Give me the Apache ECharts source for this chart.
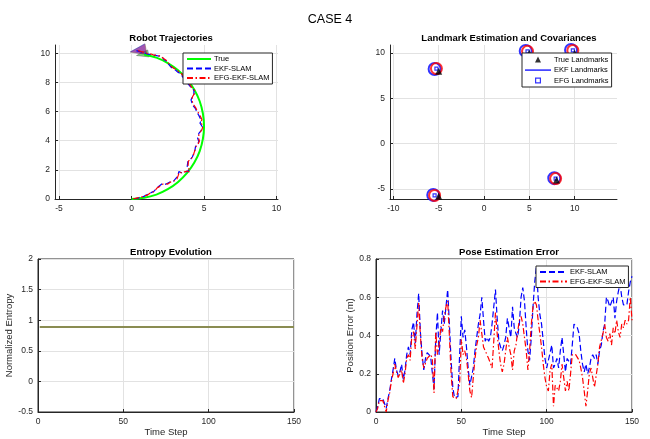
<!DOCTYPE html>
<html>
<head>
<meta charset="utf-8">
<script src="https://cdn.jsdelivr.net/npm/echarts@6/dist/echarts.min.js"></script>
<style>
html, body { margin: 0; padding: 0; background: #fff; }
#main { width: 650px; height: 439px; }
</style>
</head>
<body>
<div id="main"></div>
<script>
// ---- Robot Trajectories (m) ----
var trueX = [0.00, 0.87, 1.71, 2.50, 3.21, 3.83, 4.33, 4.70, 4.92, 5.00, 4.92, 4.70, 4.33, 3.83, 3.21, 2.50, 1.71, 0.87];
var trueY = [0.00, 0.08, 0.30, 0.67, 1.17, 1.79, 2.50, 3.29, 4.13, 5.00, 5.87, 6.71, 7.50, 8.21, 8.83, 9.33, 9.70, 9.92];

var ekfX = [0.16, 0.45, 0.62, 0.85, 1.08, 1.30, 1.54, 1.70, 1.89, 2.11, 2.30, 2.46, 2.69, 2.90, 3.03, 3.20, 3.26, 3.45, 3.61, 3.80,
            3.95, 3.84, 3.88, 4.07, 4.20, 4.30, 4.38, 4.41, 4.55, 4.64, 4.55, 4.64, 4.80, 4.88, 4.72, 4.80, 4.64, 4.50, 4.41, 4.25,
            4.18, 4.10, 4.18, 4.30, 4.30, 4.07, 3.90, 3.72, 3.55, 3.38, 3.20, 3.03, 2.85, 2.69, 2.55, 2.46, 2.25, 2.11, 1.90, 1.66,
            1.50, 1.31, 1.10, 0.97, 0.80, 0.62, 0.45, 0.28];
var ekfY = [0.00, 0.05, 0.15, 0.18, 0.30, 0.42, 0.52, 0.70, 0.88, 1.05, 1.00, 1.06, 1.20, 1.22, 1.33, 1.60, 1.88, 1.80, 1.83, 1.90,
            1.88, 2.25, 2.56, 2.72, 2.90, 3.15, 3.40, 3.60, 3.75, 3.95, 4.20, 4.50, 4.70, 4.96, 5.20, 5.40, 5.74, 5.95, 6.20, 6.40,
            6.55, 6.80, 7.00, 7.20, 7.46, 7.69, 7.90, 8.15, 8.35, 8.60, 8.70, 8.85, 8.95, 9.08, 9.25, 9.42, 9.55, 9.75, 9.80, 9.86,
            9.85, 9.92, 9.95, 9.98, 10.05, 10.10, 10.15, 10.20];

var efgX = [0.10, 0.40, 0.65, 0.90, 1.10, 1.35, 1.55, 1.75, 1.92, 2.15, 2.35, 2.50, 2.72, 2.95, 3.10, 3.22, 3.30, 3.50, 3.65, 3.85,
            4.00, 3.90, 3.92, 4.10, 4.25, 4.32, 4.42, 4.45, 4.60, 4.68, 4.60, 4.70, 4.85, 4.92, 4.78, 4.85, 4.70, 4.55, 4.45, 4.30,
            4.22, 4.15, 4.22, 4.35, 4.32, 4.10, 3.95, 3.78, 3.60, 3.42, 3.25, 3.08, 2.90, 2.72, 2.58, 2.48, 2.28, 2.15, 1.95, 1.70,
            1.52, 1.35, 1.15, 1.00, 0.82, 0.65, 0.48, 0.30];
var efgY = [0.00, 0.08, 0.12, 0.22, 0.27, 0.45, 0.50, 0.75, 0.85, 1.02, 1.05, 1.02, 1.18, 1.25, 1.30, 1.62, 1.85, 1.78, 1.86, 1.92,
            1.85, 2.30, 2.60, 2.75, 2.95, 3.20, 3.45, 3.62, 3.80, 3.98, 4.25, 4.55, 4.75, 5.00, 5.25, 5.45, 5.78, 6.00, 6.22, 6.45,
            6.60, 6.85, 7.05, 7.25, 7.50, 7.72, 7.95, 8.18, 8.40, 8.62, 8.75, 8.88, 8.98, 9.12, 9.28, 9.45, 9.60, 9.72, 9.82, 9.88,
            9.88, 9.95, 9.98, 10.02, 10.08, 10.12, 10.18, 10.22];

// final robot poses [x, y]
var poseTrue = [0.75, 9.92];
var poseEkf = [0.42, 10.2];
var poseEfg = [0.45, 10.18];

// ---- Landmarks (m) ----
var trueLmX = [-5, 5, 10, 8, -5];
var trueLmY = [8, 10, 10, -4, -5.8];
var ekfLmX = [-5.45, 4.6, 9.6, 7.75, -5.6];
var ekfLmY = [8.25, 10.25, 10.35, -3.8, -5.65];
var efgLmX = [-5.25, 4.8, 9.8, 7.9, -5.45];
var efgLmY = [8.3, 10.2, 10.3, -3.85, -5.7];

// ---- Entropy ----
var entropySteps = [1, 150];
var entropyValues = [0.89, 0.89];

// ---- Pose error, time step 0..150 ----
var ekfErr = [0.00, 0.03, 0.07, 0.08, 0.07, 0.06, 0.02, 0.07, 0.11, 0.17,
              0.22, 0.28, 0.22, 0.19, 0.21, 0.25, 0.17, 0.22, 0.30, 0.34,
              0.30, 0.43, 0.47, 0.36, 0.51, 0.62, 0.42, 0.30, 0.22, 0.28,
              0.31, 0.30, 0.29, 0.28, 0.12, 0.38, 0.52, 0.30, 0.42, 0.53,
              0.46, 0.55, 0.64, 0.46, 0.27, 0.13, 0.075, 0.075, 0.08, 0.30,
              0.50, 0.39, 0.43, 0.34, 0.23, 0.14, 0.13, 0.23, 0.32, 0.39,
              0.46, 0.51, 0.60, 0.48, 0.37, 0.39, 0.37, 0.39, 0.46, 0.55,
              0.64, 0.49, 0.37, 0.34, 0.32, 0.35, 0.39, 0.49, 0.44, 0.39,
              0.55, 0.44, 0.41, 0.39, 0.46, 0.60, 0.65, 0.58, 0.44, 0.32,
              0.27, 0.39, 0.55, 0.68, 0.76, 0.60, 0.51, 0.46, 0.37, 0.28,
              0.23, 0.27, 0.28, 0.35, 0.23, 0.25, 0.28, 0.23, 0.32, 0.39,
              0.30, 0.21, 0.28, 0.28, 0.25, 0.35, 0.46, 0.46, 0.44, 0.41,
              0.32, 0.25, 0.21, 0.25, 0.20, 0.23, 0.28, 0.30, 0.28, 0.30,
              0.25, 0.32, 0.35, 0.42, 0.46, 0.60, 0.58, 0.55, 0.56, 0.60,
              0.49, 0.58, 0.63, 0.67, 0.60, 0.56, 0.55, 0.56, 0.63, 0.68,
              0.71];
var efgErr = [0.00, 0.02, 0.06, 0.07, 0.06, 0.06, 0.00, 0.06, 0.10, 0.16,
              0.20, 0.25, 0.21, 0.18, 0.20, 0.22, 0.15, 0.20, 0.28, 0.30,
              0.27, 0.40, 0.42, 0.33, 0.45, 0.57, 0.40, 0.28, 0.23, 0.22,
              0.28, 0.29, 0.30, 0.28, 0.10, 0.42, 0.30, 0.35, 0.45, 0.42,
              0.50, 0.55, 0.58, 0.40, 0.20, 0.08, 0.07, 0.07, 0.08, 0.15,
              0.38, 0.30, 0.32, 0.28, 0.20, 0.11, 0.075, 0.18, 0.28, 0.35,
              0.39, 0.48, 0.41, 0.34, 0.35, 0.30, 0.28, 0.29, 0.23, 0.37,
              0.52, 0.41, 0.32, 0.25, 0.21, 0.25, 0.32, 0.39, 0.34, 0.30,
              0.22, 0.32, 0.35, 0.42, 0.48, 0.50, 0.46, 0.39, 0.32, 0.22,
              0.32, 0.46, 0.55, 0.58, 0.56, 0.48, 0.41, 0.34, 0.25, 0.18,
              0.13, 0.11, 0.22, 0.25, 0.03, 0.14, 0.13, 0.11, 0.16, 0.25,
              0.18, 0.11, 0.16, 0.11, 0.20, 0.30, 0.31, 0.30, 0.29, 0.27,
              0.23, 0.18, 0.11, 0.03, 0.11, 0.20, 0.23, 0.18, 0.13, 0.14,
              0.25, 0.34, 0.35, 0.41, 0.46, 0.39, 0.37, 0.41, 0.35, 0.44,
              0.41, 0.48, 0.42, 0.39, 0.46, 0.44, 0.48, 0.46, 0.48, 0.60,
              0.48];

// tick labels
var trajXTicks = [-5, 0, 5, 10];
var trajYTicks = [0, 2, 4, 6, 8, 10];
var lmXTicks = [-10, -5, 0, 5, 10];
var lmYTicks = [-5, 0, 5, 10];
var stepTicks = [0, 50, 100, 150];
var entropyTicks = [-0.5, 0, 0.5, 1, 1.5, 2];
var errTicks = [0, 0.2, 0.4, 0.6, 0.8];

var FONT = 'Liberation Sans, Arial, sans-serif';
var INK = '#262626';
var BLUE = '#0000ff';
var RED = '#ff0000';
var GREEN = '#00ff00';
var DASH = [6, 3];
var DASHDOT = [6, 2.5, 1.5, 2.5];

// legend icons drawn in a 26x9 box (the bare M points fix the box size)
var ICON_TRI = 'path://M0,0M26,9M10,7.5L13,1.5L16,7.5Z';
var ICON_LINE = 'path://M0,0M26,9M0,3.8h26v1.6h-26z';
var ICON_SQR = 'path://M0,0M26,9M10,1.5h6v6h-6zM11.2,2.7v3.6h3.6v-3.6z';

function zip(xs, ys) {
    var out = [];
    for (var i = 0; i < xs.length; i++) out.push([xs[i], ys[i]]);
    return out;
}
function steps(vals) {
    var out = [];
    for (var i = 0; i < vals.length; i++) out.push([i, vals[i]]);
    return out;
}

function axis(grid, min, max, ticks, extra) {
    var a = {
        type: 'value', gridIndex: grid, min: min, max: max,
        axisLine: { show: true, onZero: false, lineStyle: { color: INK, width: 1 } },
        axisTick: { show: true, inside: true, length: 3, customValues: ticks, lineStyle: { color: INK } },
        axisLabel: { customValues: ticks, fontSize: 8.5, color: INK, fontFamily: FONT, margin: 5 },
        splitLine: { show: true, lineStyle: { color: '#e2e2e2', width: 1 } },
        nameTextStyle: { fontSize: 9.5, color: INK, fontFamily: FONT }
    };
    for (var k in extra) a[k] = extra[k];
    return a;
}

var chart = echarts.init(document.getElementById('main'));

var legendBase = {
    orient: 'vertical', backgroundColor: '#fff', borderColor: INK, borderWidth: 1,
    itemGap: 1.5, itemHeight: 9, padding: [2, 3, 2, 3],
    textStyle: { fontSize: 7.5, color: '#000', fontFamily: FONT, padding: [0, 0, 0, -2] },
    selectedMode: false
};

var option = {
    animation: false,
    backgroundColor: '#fff',
    title: [
        { text: 'CASE 4', left: 325, top: 8, textAlign: 'center',
          textStyle: { fontSize: 12.5, fontWeight: 'normal', color: '#000', fontFamily: FONT } },
        { text: 'Robot Trajectories', left: 166, top: 28, textAlign: 'center',
          textStyle: { fontSize: 9.5, fontWeight: 'bold', color: '#000', fontFamily: FONT } },
        { text: 'Landmark Estimation and Covariances', left: 504, top: 28, textAlign: 'center',
          textStyle: { fontSize: 9.5, fontWeight: 'bold', color: '#000', fontFamily: FONT } },
        { text: 'Entropy Evolution', left: 166, top: 242, textAlign: 'center',
          textStyle: { fontSize: 9.5, fontWeight: 'bold', color: '#000', fontFamily: FONT } },
        { text: 'Pose Estimation Error', left: 504, top: 242, textAlign: 'center',
          textStyle: { fontSize: 9.5, fontWeight: 'bold', color: '#000', fontFamily: FONT } }
    ],
    legend: [
        Object.assign({}, legendBase, { left: 183, top: 53, itemWidth: 24,
            itemStyle: { opacity: 0 },
            data: ['True', 'EKF-SLAM', 'EFG-EKF-SLAM'] }),
        Object.assign({}, legendBase, { left: 522, top: 53, itemWidth: 26,
            data: [
                { name: 'True Landmarks', icon: ICON_TRI, itemStyle: { color: '#000', borderWidth: 0 } },
                { name: 'EKF Landmarks', icon: ICON_LINE, itemStyle: { color: BLUE, borderWidth: 0 } },
                { name: 'EFG Landmarks', icon: ICON_SQR, itemStyle: { color: BLUE, borderWidth: 0 } }
            ] }),
        Object.assign({}, legendBase, { left: 536, top: 266, itemWidth: 27,
            itemStyle: { opacity: 0 },
            data: ['EKF-SLAM', 'EFG-EKF-SLAM'] })
    ],
    grid: [
        { left: 55, top: 45, width: 223, height: 154, outerBoundsMode: 'none' },
        { left: 390, top: 45, width: 227, height: 154, outerBoundsMode: 'none' },
        { left: 38, top: 259, width: 256, height: 153, show: true, borderColor: INK, borderWidth: 1, outerBoundsMode: 'none' },
        { left: 376, top: 259, width: 256, height: 153, show: true, borderColor: INK, borderWidth: 1, outerBoundsMode: 'none' }
    ],
    xAxis: [
        axis(0, -5.28, 10.1, trajXTicks, {}),
        axis(1, -10.37, 14.67, lmXTicks, {}),
        axis(2, 0, 150, stepTicks, { name: 'Time Step', nameLocation: 'middle', nameGap: 15 }),
        axis(3, 0, 150, stepTicks, { name: 'Time Step', nameLocation: 'middle', nameGap: 15 })
    ],
    yAxis: [
        axis(0, 0, 10.57, trajYTicks, {}),
        axis(1, -6.1, 10.9, lmYTicks, {}),
        axis(2, -0.5, 2, entropyTicks, { name: 'Normalized Entropy', nameLocation: 'middle', nameGap: 18 }),
        axis(3, 0, 0.8, errTicks, { name: 'Position Error (m)', nameLocation: 'middle', nameGap: 19 })
    ],
    series: [
        // trajectories
        { name: 'True', type: 'line', xAxisIndex: 0, yAxisIndex: 0, data: zip(trueX, trueY),
          symbol: 'none', smooth: 0.3, lineStyle: { color: GREEN, width: 2 }, itemStyle: { color: GREEN } },
        { name: 'EKF-SLAM', type: 'line', xAxisIndex: 0, yAxisIndex: 0, data: zip(ekfX, ekfY),
          symbol: 'none', lineStyle: { color: BLUE, width: 1.2, type: DASH }, itemStyle: { color: BLUE } },
        { name: 'EFG-EKF-SLAM', type: 'line', xAxisIndex: 0, yAxisIndex: 0, data: zip(efgX, efgY),
          symbol: 'none', lineStyle: { color: RED, width: 1.2, type: DASHDOT }, itemStyle: { color: RED } },
        { name: 'poseTrue', type: 'scatter', xAxisIndex: 0, yAxisIndex: 0, data: [poseTrue],
          symbol: 'triangle', symbolSize: [7, 12], symbolRotate: 100,
          itemStyle: { color: 'rgba(0,190,0,0.6)', borderColor: '#4a4a4a', borderWidth: 0.5 } },
        { name: 'poseEfg', type: 'scatter', xAxisIndex: 0, yAxisIndex: 0, data: [poseEfg],
          symbol: 'triangle', symbolSize: [11, 16], symbolRotate: 100,
          itemStyle: { color: 'rgba(255,0,0,0.6)', borderColor: '#4a4a4a', borderWidth: 0.5 } },
        { name: 'poseEkf', type: 'scatter', xAxisIndex: 0, yAxisIndex: 0, data: [poseEkf],
          symbol: 'triangle', symbolSize: [11, 16], symbolRotate: 100,
          itemStyle: { color: 'rgba(0,0,255,0.45)' } },

        // landmarks
        { name: 'EKF Landmarks', type: 'scatter', xAxisIndex: 1, yAxisIndex: 1, data: zip(ekfLmX, ekfLmY),
          symbol: 'circle', symbolSize: 12,
          itemStyle: { color: '#fff', borderColor: BLUE, borderWidth: 2 } },
        { name: 'EFG ellipse', type: 'scatter', xAxisIndex: 1, yAxisIndex: 1, data: zip(efgLmX, efgLmY),
          symbol: 'circle', symbolSize: 11,
          itemStyle: { color: 'rgba(255,255,255,0)', borderColor: RED, borderWidth: 2 } },
        { name: 'EFG Landmarks', type: 'scatter', xAxisIndex: 1, yAxisIndex: 1, data: zip(efgLmX, efgLmY),
          symbol: 'rect', symbolSize: 3,
          itemStyle: { color: '#fff', borderColor: BLUE, borderWidth: 1.2 } },
        { name: 'True Landmarks', type: 'scatter', xAxisIndex: 1, yAxisIndex: 1, data: zip(trueLmX, trueLmY),
          symbol: 'triangle', symbolSize: 7, itemStyle: { color: '#000' } },

        // entropy
        { name: 'Entropy', type: 'line', xAxisIndex: 2, yAxisIndex: 2, data: zip(entropySteps, entropyValues),
          symbol: 'none', lineStyle: { color: '#8a8c52', width: 2 } },

        // pose error
        { name: 'EKF-SLAM', type: 'line', xAxisIndex: 3, yAxisIndex: 3, data: steps(ekfErr),
          symbol: 'none', lineStyle: { color: BLUE, width: 1.2, type: DASH }, itemStyle: { color: BLUE } },
        { name: 'EFG-EKF-SLAM', type: 'line', xAxisIndex: 3, yAxisIndex: 3, data: steps(efgErr),
          symbol: 'none', lineStyle: { color: RED, width: 1.2, type: DASHDOT }, itemStyle: { color: RED } }
    ]
};

chart.setOption(option);
</script>
</body>
</html>
